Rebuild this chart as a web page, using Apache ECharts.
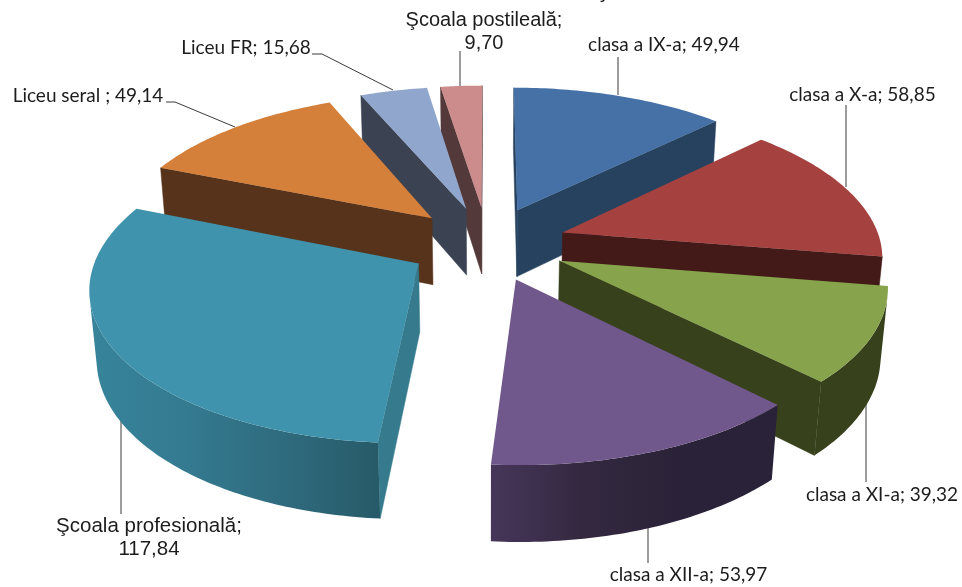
<!DOCTYPE html>
<html>
<head>
<meta charset="utf-8">
<script src="https://cdn.jsdelivr.net/npm/echarts@6/dist/echarts.min.js"></script>
<style>
  html, body { margin: 0; padding: 0; background: #fff; }
  #chart { width: 962px; height: 587px; }
</style>
</head>
<body>
<div id="chart"></div>
<script>
const categories = ['clasa a IX-a', 'clasa a X-a', 'clasa a XI-a', 'clasa a XII-a', 'Şcoala profesională', 'Liceu seral ', 'Liceu FR', 'Şcoala postileală']
const values = [49.94, 58.85, 39.32, 53.97, 117.84, 49.14, 15.68, 9.70]

const topColors = ['#4571a6', '#a54240', '#87a44d', '#71588c', '#3f93ac', '#d47f3a', '#90a6cc', '#cc8c8c']
const sideColors = ['#27425f', '#431a17', '#37411c', '#2a2238', '#357a8d', '#56331a', '#3b4252', '#54393a']
// outer wall shading, left to right on screen
const wallColors = [
  ['#27425f', '#27425f'],
  ['#431a17', '#431a17'],
  ['#37411c', '#37411c'],
  ['#46365a', '#33283f', '#2a2238', '#2a2238'],
  ['#37849b', '#347a90', '#2f6b7e', '#275a68'],
  ['#56331a', '#56331a'],
  ['#3b4252', '#3b4252'],
  ['#54393a', '#54393a'],
]

// camera, fitted to the picture
const CX = 487.5, CY = 243.5
const FOCAL = 2012, DIST = 6.32
const TILT = 27.8 * Math.PI / 180
const EXPLODE = 0.25
const DEPTH = 0.245

const sinT = Math.sin(TILT), cosT = Math.cos(TILT)
const camY = -DIST * cosT

function project(x, y, z) {
  const w = DIST + y * cosT - z * sinT
  return [CX + FOCAL * x / w, CY - FOCAL * (y * sinT + z * cosT) / w]
}

const total = values.reduce((a, b) => a + b, 0)
let cum = 0
const slices = values.map(v => {
  const start = echarts.number.linearMap(cum, [0, total], [0, 2 * Math.PI])
  cum += v
  const end = echarts.number.linearMap(cum, [0, total], [0, 2 * Math.PI])
  const mid = (start + end) / 2
  return { start, end, ox: EXPLODE * Math.sin(mid), oy: EXPLODE * Math.cos(mid) }
})

function poly(points, fill, z2, edge) {
  return {
    type: 'polygon',
    z2,
    shape: { points },
    style: { fill, stroke: edge ? fill : null, lineWidth: edge ? 0.5 : 0 },
  }
}

function renderSlice(params, api) {
  const i = api.value(0)
  const s = slices[i]
  // back slices are painted first
  const rank = Math.round((1 - s.oy / EXPLODE) * 100)
  const z2 = rank * 10
  const children = []

  const rim = t => [s.ox + Math.sin(t), s.oy + Math.cos(t)]
  const quad = (a, b) => [project(a[0], a[1], 0), project(b[0], b[1], 0), project(b[0], b[1], -DEPTH), project(a[0], a[1], -DEPTH)]
  const faces = (p, nx, ny) => (-p[0]) * nx + (camY - p[1]) * ny > 0

  // flat cut walls
  const apex = [s.ox, s.oy]
  if (faces(apex, -Math.cos(s.start), Math.sin(s.start))) {
    children.push(poly(quad(apex, rim(s.start)), sideColors[i], z2, true))
  }
  if (faces(apex, Math.cos(s.end), -Math.sin(s.end))) {
    children.push(poly(quad(apex, rim(s.end)), sideColors[i], z2 + 1, true))
  }

  // outer curved wall, only the part turned to the camera
  const steps = Math.max(16, Math.round((s.end - s.start) * 60))
  const upper = [], lower = []
  for (let k = 0; k <= steps; k++) {
    const t = s.start + (s.end - s.start) * k / steps
    const p = rim(t)
    if (!faces(p, Math.sin(t), Math.cos(t))) continue
    upper.push(project(p[0], p[1], 0))
    lower.unshift(project(p[0], p[1], -DEPTH))
  }
  if (upper.length > 1) {
    const pts = upper.concat(lower)
    const xs = pts.map(p => p[0])
    const x0 = Math.min.apply(null, xs), x1 = Math.max.apply(null, xs)
    const stops = wallColors[i].map((color, k, a) => ({ offset: k / (a.length - 1), color }))
    const fill = new echarts.graphic.LinearGradient(x0, 0, x1, 0, stops, true)
    children.push(poly(pts, fill, z2 + 2, false))
  }

  // top face
  const top = [project(apex[0], apex[1], 0)]
  for (let k = 0; k <= steps; k++) {
    const p = rim(s.start + (s.end - s.start) * k / steps)
    top.push(project(p[0], p[1], 0))
  }
  children.push(poly(top, topColors[i], z2 + 3, false))

  return { type: 'group', children }
}

const calibri = '19px Lato, "Liberation Sans", sans-serif'
const fmt = v => v.toFixed(2).replace('.', ',')

// label placement and leader lines, one per category
const labelLayout = [
  { x: 664, y: 45, font: calibri, leader: [[618, 57], [618, 95]] },
  { x: 862.5, y: 95, font: calibri, leader: [[846, 105], [846, 187]] },
  { x: 882, y: 495, font: calibri, leader: [[866, 403], [866, 482]] },
  { x: 688.5, y: 575, font: calibri, leader: [[648, 527], [648, 563]] },
  { x: 149, y: 538, font: '20.5px "Liberation Sans", Arial, sans-serif', breakLine: true, leader: [[121, 420], [121, 514]] },
  { x: 88, y: 96, font: calibri, leader: [[166, 102], [175, 102], [235, 127]] },
  { x: 246, y: 48, font: calibri, leader: [[312, 54], [322, 54], [393, 90]] },
  { x: 484, y: 32, font: '20px "Liberation Sans", Arial, sans-serif', breakLine: true, leader: [[460, 51], [460, 86]] },
]

const graphics = []
labelLayout.forEach((l, i) => {
  const text = l.breakLine
    ? categories[i] + ';\n' + fmt(values[i])
    : categories[i] + '; ' + fmt(values[i])
  graphics.push({
    type: 'polyline',
    z: 1,
    shape: { points: l.leader },
    style: { stroke: '#3a3a3a', lineWidth: 1, fill: null },
  })
  graphics.push({
    type: 'text',
    z: 1,
    x: l.x,
    y: l.y,
    style: {
      text,
      font: l.font,
      fill: '#1c1c1c',
      align: 'center',
      verticalAlign: 'middle',
      lineHeight: 23,
    },
  })
})

// the picture cuts the chart title off, only the tail of one letter is left
graphics.push({
  type: 'text',
  x: 601.5,
  y: -7.5,
  style: { text: 'ţ', font: 'bold 20px "Liberation Sans", Arial, sans-serif', fill: '#111', align: 'center', verticalAlign: 'middle' },
})

const chart = echarts.init(document.getElementById('chart'), null, { renderer: 'canvas' })
chart.setOption({
  animation: false,
  backgroundColor: '#fff',
  graphic: graphics,
  series: [{
    type: 'custom',
    coordinateSystem: 'none',
    silent: true,
    clip: false,
    renderItem: renderSlice,
    encode: { value: 1 },
    data: values.map((v, i) => [i, v]),
  }],
})
</script>
</body>
</html>
